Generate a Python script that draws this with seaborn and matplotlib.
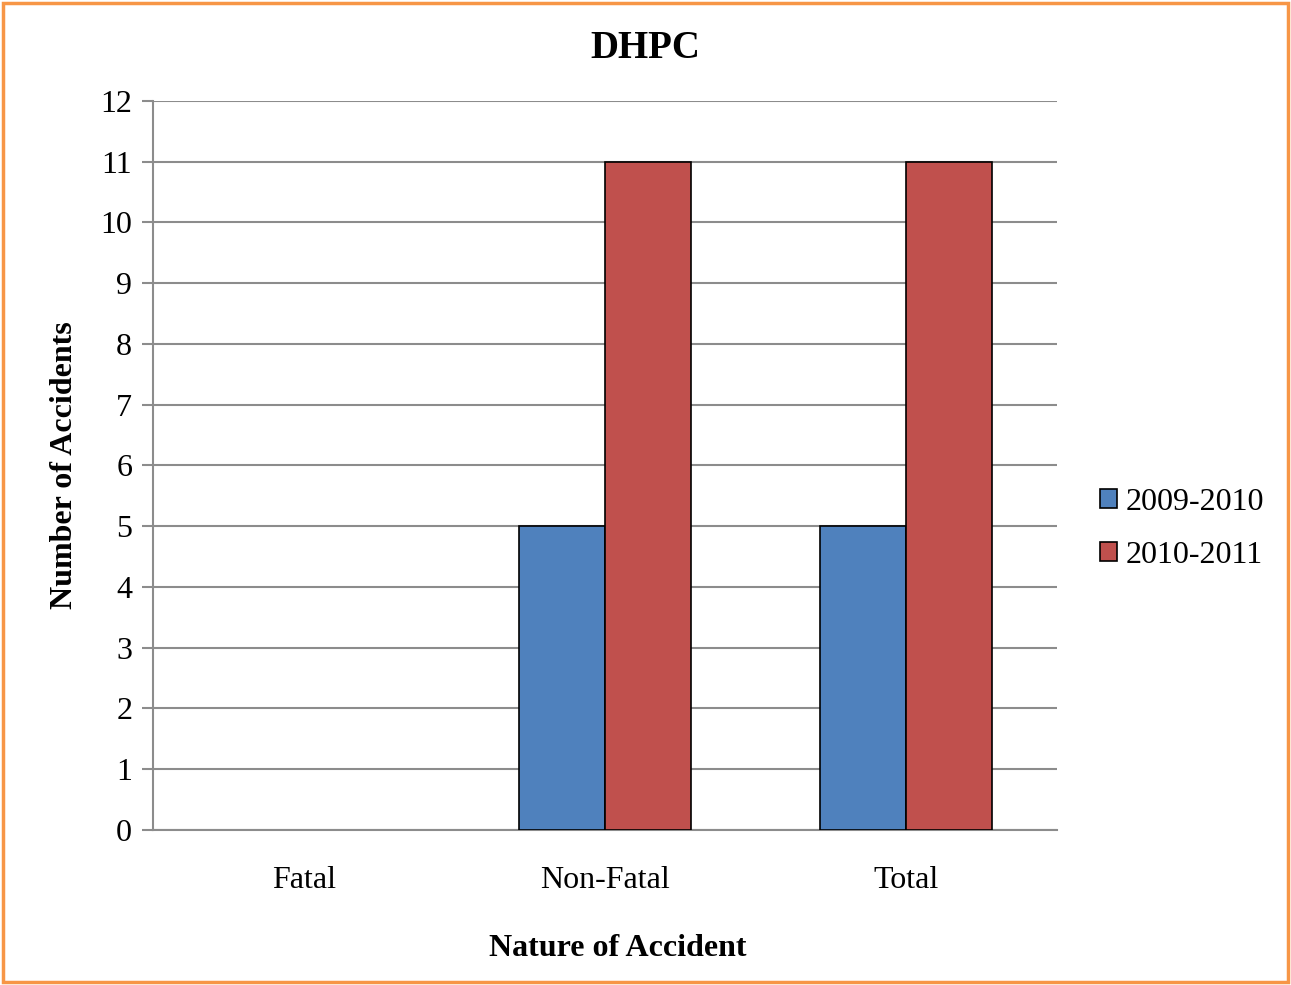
import numpy as np
import pandas as pd
import matplotlib.pyplot as plt
import seaborn as sns
from matplotlib.patches import Rectangle, Patch

# Data
categories = ['Fatal', 'Non-Fatal', 'Total']
years = ['2009-2010', '2010-2011']
counts_2009 = [0, 5, 5]
counts_2010 = [0, 11, 11]
colors = ['#4F81BD', '#C0504D']

df = pd.DataFrame({
    'Nature': categories * 2,
    'Year': [years[0]] * 3 + [years[1]] * 3,
    'Count': counts_2009 + counts_2010,
})

sns.set_style('white')
plt.rcParams['font.family'] = ['Liberation Serif', 'DejaVu Serif']
plt.rcParams['text.color'] = 'black'
plt.rcParams['xtick.color'] = 'black'
plt.rcParams['ytick.color'] = 'black'
plt.rcParams['axes.labelcolor'] = 'black'

fig = plt.figure(figsize=(12.91, 9.85), dpi=100)
ax = fig.add_axes([0.1185, 0.1574, 0.7002, 0.7401])

sns.barplot(data=df, x='Nature', y='Count', hue='Year', palette=colors,
            saturation=1, width=0.57, edgecolor='black', linewidth=1.2,
            ax=ax, zorder=3, legend=False)

# hide zero-height bars (Fatal)
for p in ax.patches:
    if p.get_height() == 0:
        p.set_visible(False)

ax.set_xlim(-0.5, 2.5)
ax.set_ylim(0, 12)
ax.set_yticks(range(0, 13))
ax.yaxis.grid(True, color='#8c8c8c', linewidth=1.5, zorder=0)
ax.set_axisbelow(True)
for s in ['top', 'right']:
    ax.spines[s].set_visible(False)
for s in ['left', 'bottom']:
    ax.spines[s].set_color('#8c8c8c')
    ax.spines[s].set_linewidth(1.5)
ax.tick_params(axis='y', which='major', length=8, width=1.5, color='#8c8c8c',
               direction='out', labelsize=23, pad=7, left=True, labelcolor='black')
ax.tick_params(axis='x', length=0, labelsize=23, pad=26, labelcolor='black')

ax.set_xlabel('')
ax.set_ylabel('Number of Accidents', fontsize=23, fontweight='bold', labelpad=15)
fig.text(0.5, 1 - 48 / 985, 'DHPC', fontsize=28, fontweight='bold',
         ha='center', va='center')
fig.text(618 / 1291, 1 - 949 / 985, 'Nature of Accident', fontsize=23,
         fontweight='bold', ha='center', va='center')

handles = [Patch(facecolor=c, edgecolor='black', linewidth=1.2) for c in colors]
ax.legend(handles, years, loc='center left', bbox_to_anchor=(1.034, 0.413),
          frameon=False, fontsize=23, handlelength=0.53, handleheight=0.53,
          handletextpad=0.25, labelspacing=0.75, borderaxespad=0)

# orange border around the figure
fig.patches.append(Rectangle((0.0025, 0.003), 0.995, 0.994, transform=fig.transFigure,
                             fill=False, edgecolor='#F79646', linewidth=2.5))

plt.savefig('out.png', dpi=100)
plt.close()
